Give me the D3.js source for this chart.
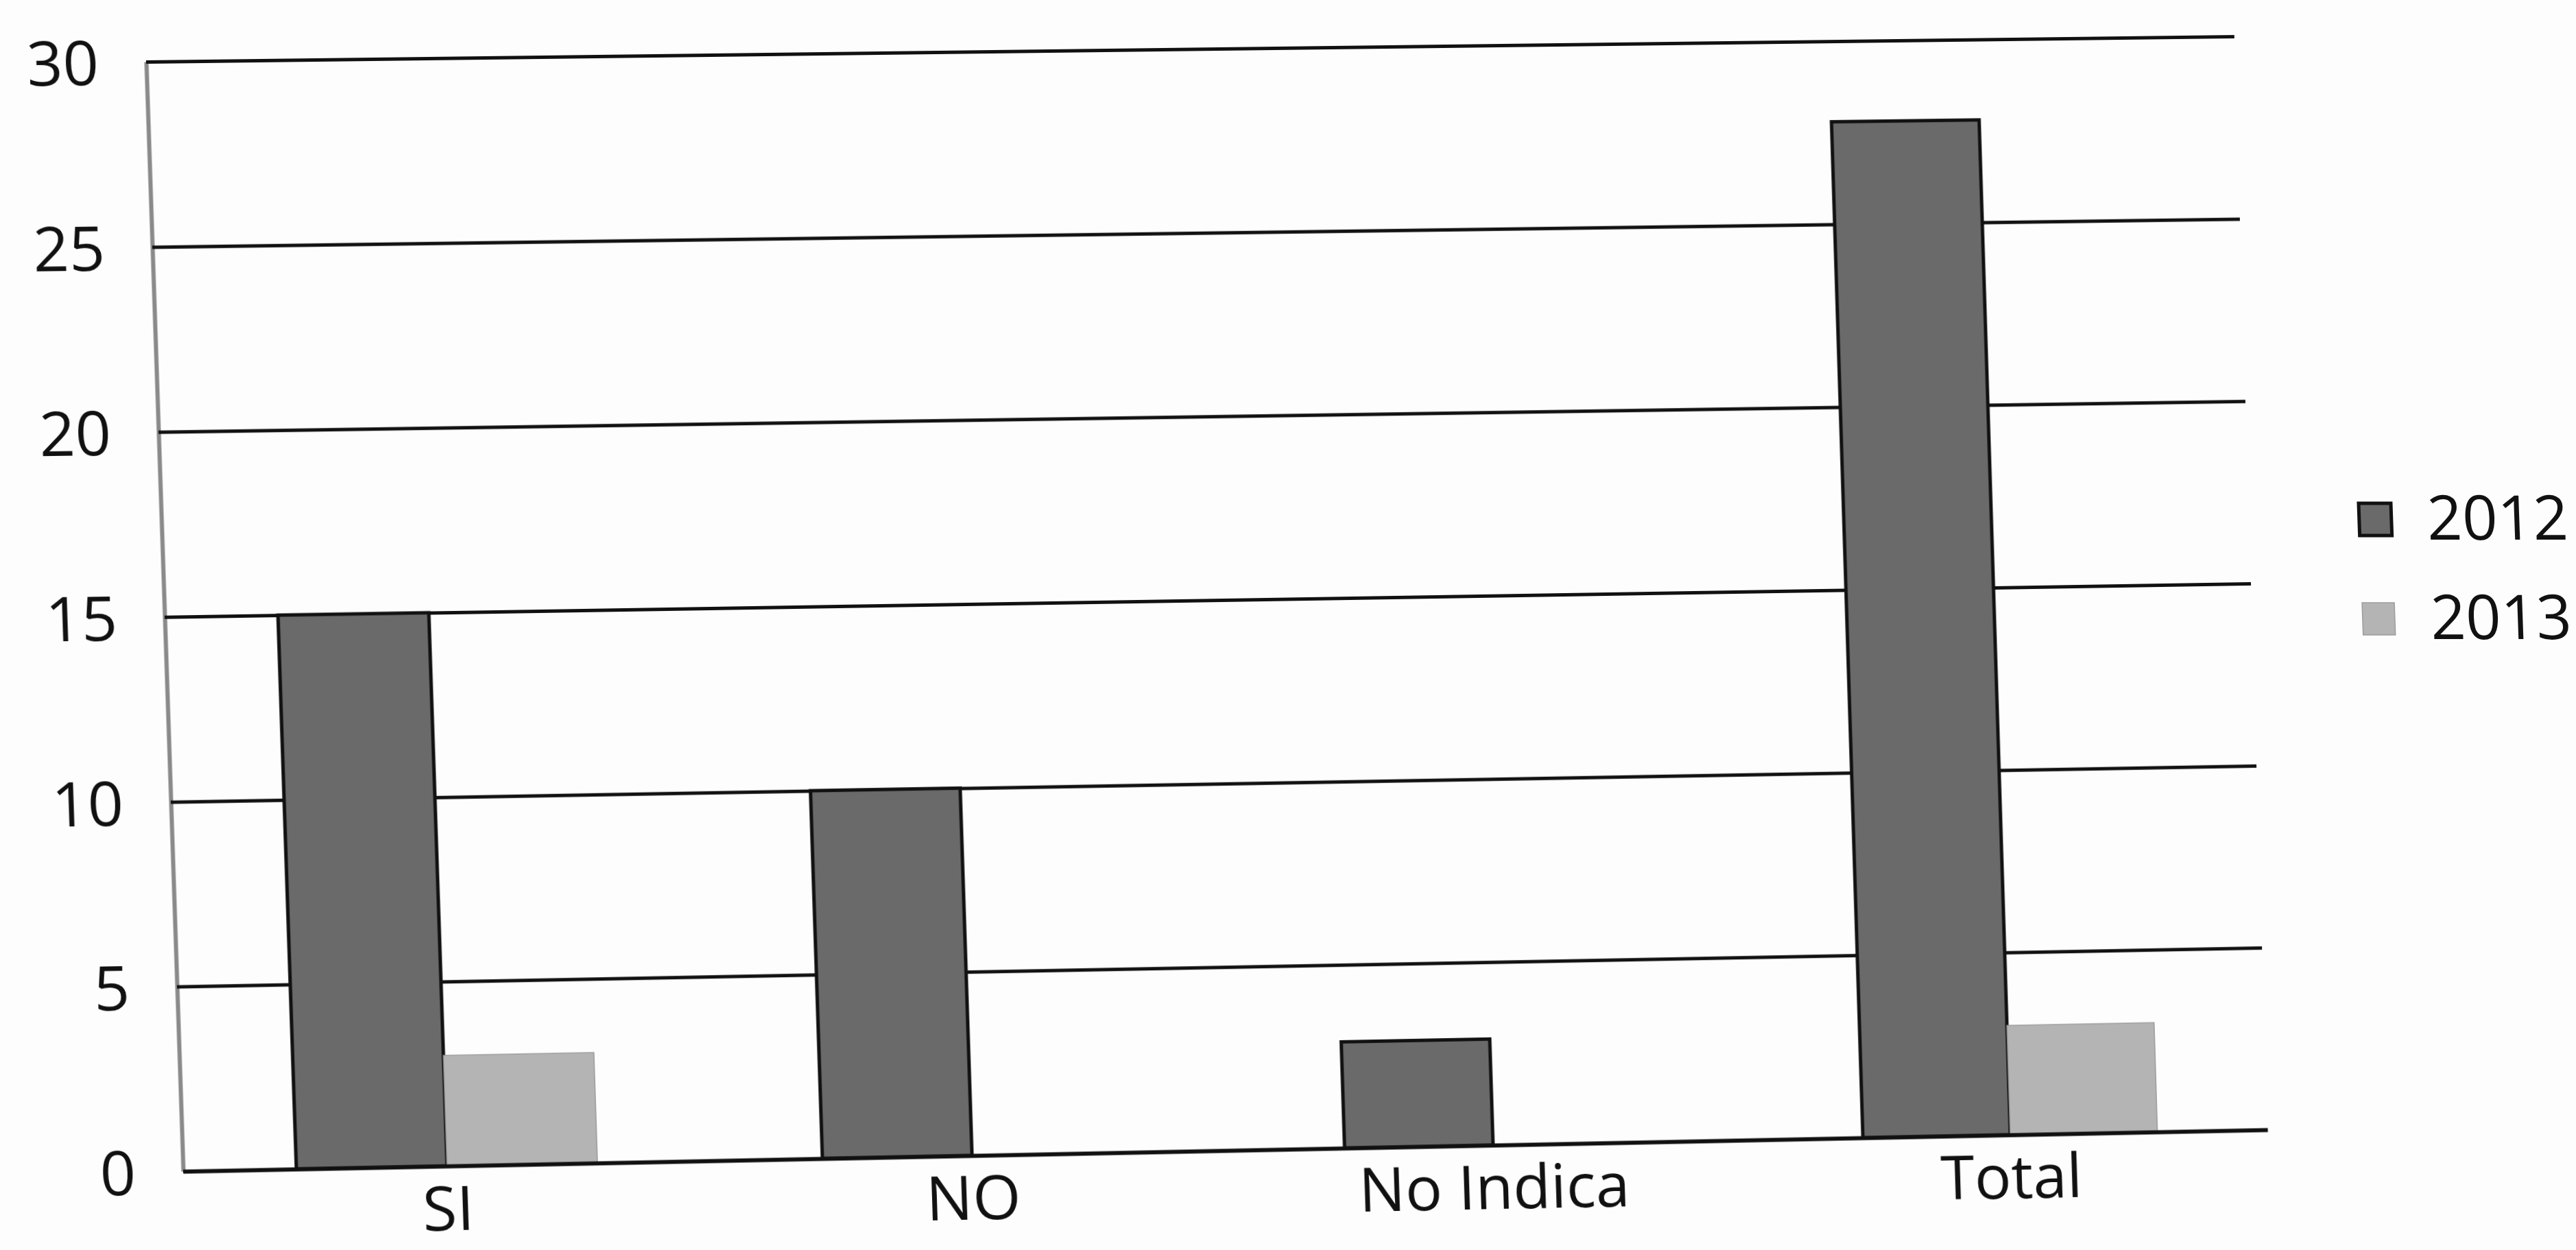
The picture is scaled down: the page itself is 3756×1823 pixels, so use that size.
<!DOCTYPE html>
<html>
<head>
<meta charset="utf-8">
<script src="https://cdn.jsdelivr.net/npm/d3@7"></script>
<style>
  html, body { margin: 0; padding: 0; background: #fdfdfd; overflow: hidden; }
  #chart, #legend { position: absolute; left: 0; top: 0; overflow: visible; }
  #chart { transform-origin: 0 0; }
  text { font-family: "Open Sans", "Noto Sans", sans-serif; fill: #111; }
</style>
</head>
<body>
<svg id="chart" width="3756" height="1823"></svg>
<svg id="legend" width="3756" height="1823"></svg>
<script>
// ---- data ----
const categories = ["SI", "NO", "No Indica", "Total"];
const seriesNames = ["2012", "2013"];
const values2012 = [15, 10, 2.9, 27.8];
const values2013 = [3, 0, 0, 3];
const yTicks = [0, 5, 10, 15, 20, 25, 30];

// ---- layout ----
const plot = { left: 213, top: 90, width: 3040, height: 1618 };
// where the plot corners land on the printed page (TL, TR, BR, BL)
const pageCorners = [[213, 90], [3257, 53], [3305, 1647], [267, 1708]];
const fontSize = 90;
const colors = { "2012": "#6a6a6a", "2013": "#b4b4b4" };
const strokes = { "2012": "#111", "2013": "#9c9c9c" };
const strokeW = { "2012": 5, "2013": 1.5 };

// projective map from the flat plot rectangle onto the page quad
function quadMatrix(r, q) {
  const [[x0, y0], [x1, y1], [x2, y2], [x3, y3]] = q;
  const dx1 = x1 - x2, dx2 = x3 - x2, dx3 = x0 - x1 + x2 - x3;
  const dy1 = y1 - y2, dy2 = y3 - y2, dy3 = y0 - y1 + y2 - y3;
  const den = dx1 * dy2 - dx2 * dy1;
  const g = (dx3 * dy2 - dx2 * dy3) / den;
  const h = (dx1 * dy3 - dx3 * dy1) / den;
  const a = x1 - x0 + g * x1, b = x3 - x0 + h * x3, c = x0;
  const d = y1 - y0 + g * y1, e = y3 - y0 + h * y3, f = y0;
  const sx = 1 / r.width, sy = 1 / r.height;
  const tx = -r.left / r.width, ty = -r.top / r.height;
  const m00 = a * sx, m01 = b * sy, m02 = a * tx + b * ty + c;
  const m10 = d * sx, m11 = e * sy, m12 = d * tx + e * ty + f;
  const m20 = g * sx, m21 = h * sy, m22 = g * tx + h * ty + 1;
  return `matrix3d(${m00},${m10},0,${m20},${m01},${m11},0,${m21},0,0,1,0,${m02},${m12},0,${m22})`;
}

const svg = d3.select("#chart");
svg.style("transform", quadMatrix(plot, pageCorners));

// ---- scales ----
const x0 = d3.scaleBand()
  .domain(categories)
  .range([plot.left, plot.left + plot.width])
  .paddingInner(0.4286)
  .paddingOuter(0.2143);
const x1 = d3.scaleBand()
  .domain(seriesNames)
  .range([0, x0.bandwidth()])
  .padding(0);
const y = d3.scaleLinear()
  .domain([0, 30])
  .range([plot.top + plot.height, plot.top]);

// ---- value axis with gridlines ----
const yAxis = svg.append("g")
  .attr("transform", `translate(${plot.left},0)`)
  .call(d3.axisLeft(y)
    .tickValues(yTicks)
    .tickSize(-plot.width)
    .tickSizeOuter(0)
    .tickPadding(68));
yAxis.selectAll(".tick line")
  .attr("stroke", "#111")
  .attr("stroke-width", 5);
yAxis.selectAll(".tick text")
  .attr("font-size", fontSize)
  .attr("dy", "0.36em")
  .style("font-family", '"Open Sans", sans-serif')
  .attr("fill", "#111");
yAxis.select(".domain")
  .attr("stroke", "#8a8a8a")
  .attr("stroke-width", 6);

// ---- bars ----
const rows = categories.map((c, i) => ({
  category: c,
  values: [
    { series: "2012", value: values2012[i] },
    { series: "2013", value: values2013[i] }
  ]
}));

const groups = svg.append("g")
  .selectAll("g")
  .data(rows)
  .join("g")
  .attr("transform", d => `translate(${x0(d.category)},0)`);

groups.selectAll("rect")
  .data(d => d.values.filter(v => v.value > 0))
  .join("rect")
  .attr("x", d => x1(d.series))
  .attr("width", x1.bandwidth())
  .attr("y", d => y(d.value))
  .attr("height", d => y(0) - y(d.value))
  .attr("fill", d => colors[d.series])
  .attr("stroke", d => strokes[d.series])
  .attr("stroke-width", d => strokeW[d.series]);

// ---- category axis ----
const xAxis = svg.append("g")
  .attr("transform", `translate(0,${y(0)})`)
  .call(d3.axisBottom(x0).tickSize(0).tickSizeOuter(0).tickPadding(30));
xAxis.select(".domain")
  .attr("stroke", "#111")
  .attr("stroke-width", 6);
xAxis.selectAll(".tick text")
  .attr("font-size", fontSize)
  .style("font-family", '"Open Sans", sans-serif')
  .attr("fill", "#111");

// ---- legend ----
const legend = d3.select("#legend").append("g")
  .attr("transform", "translate(3439,734) skewX(2)");
const item = legend.selectAll("g")
  .data(seriesNames)
  .join("g")
  .attr("transform", (d, i) => `translate(0,${i * 145})`);
item.append("rect")
  .attr("width", 47)
  .attr("height", 47)
  .attr("fill", d => colors[d])
  .attr("stroke", d => strokes[d])
  .attr("stroke-width", d => d === "2012" ? 5 : 1.5);
item.append("text")
  .attr("x", 99)
  .attr("y", 21)
  .attr("dy", "0.36em")
  .attr("font-size", fontSize)
  .text(d => d);
</script>
</body>
</html>
